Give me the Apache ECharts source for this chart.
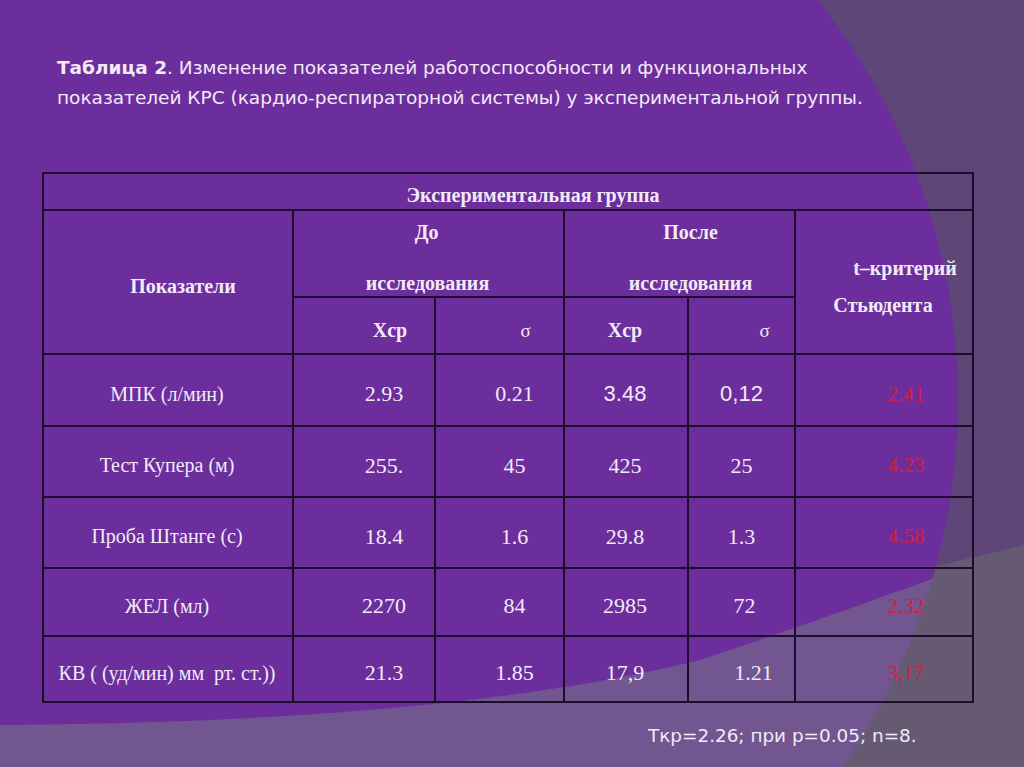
<!DOCTYPE html>
<html>
<head>
<meta charset="utf-8">
<script src="https://cdn.jsdelivr.net/npm/echarts@6/dist/echarts.min.js"></script>
<style>
html,body{margin:0;padding:0;background:#5f4678;}
#chart{width:1024px;height:767px;}
</style>
</head>
<body>
<div id="chart"></div>
<script>
// ---------- DATA ----------
const titleBold = 'Таблица 2';
const titleRest = '. Изменение показателей работоспособности и функциональных';
const titleLine2 = 'показателей КРС (кардио-респираторной системы) у экспериментальной группы.';
const groupHeader = 'Экспериментальная группа';
const indicatorHeader = 'Показатели';
const beforeHeader = ['До', 'исследования'];
const afterHeader = ['После', 'исследования'];
const tHeader = ['t–критерий', 'Стьюдента'];
const subHeaders = ['Хср', 'σ', 'Хср', 'σ'];
const indicators = ['МПК (л/мин)', 'Тест Купера (м)', 'Проба Штанге (с)', 'ЖЕЛ (мл)', 'КВ ( (уд/мин) мм  рт. ст.))'];
const meanBefore = ['2.93', '255.', '18.4', '2270', '21.3'];
const sigmaBefore = ['0.21', '45', '1.6', '84', '1.85'];
const meanAfter = ['3.48', '425', '29.8', '2985', '17,9'];
const sigmaAfter = ['0,12', '25', '1.3', '72', '1.21'];
const tStudent = ['2.41', '4.23', '4.58', '2.32', '3,17'];
const footnote = 'Ткр=2.26; при р=0.05; n=8.';

// ---------- LAYOUT ----------
const colEdges = [0, 250, 392, 521, 645, 752, 930];
const rowEdges = [0, 37, 124, 181, 253, 324, 395, 463, 529];
const LIGHT = '#f3eaf7';
const RED = '#d81e3c';
const fHead = {fontFamily: 'Liberation Serif', fontWeight: 'bold', fontSize: 20, fill: LIGHT};
const fSigma = {fontFamily: 'Liberation Serif', fontWeight: 'normal', fontSize: 19, fill: LIGHT};
const fLabel = {fontFamily: 'Liberation Serif', fontWeight: 'normal', fontSize: 20, fill: LIGHT};
const fNum = {fontFamily: 'Liberation Serif', fontWeight: 'normal', fontSize: 22, fill: LIGHT};
const fSans = {fontFamily: 'Liberation Sans', fontWeight: 'normal', fontSize: 22, fill: LIGHT};
const fRed = {fontFamily: 'Liberation Serif', fontWeight: 'normal', fontSize: 21, fill: RED};
const numColDx = [20, 15, -1, 0, 22];
const extraDx = [[0,0,0,0,0],[0,0,0,0,0],[0,0,0,0,0],[0,0,0,3,0],[0,0,0,12,0]];
const rowDy = 3.5;

const cells = [];
function addCell(c0, c1, r0, r1, lines) { cells.push({c0, c1, r0, r1, lines}); }
addCell(0, 6, 0, 1, [{t: groupHeader, s: fHead, dx: 25, dy: 3.5}]);
addCell(0, 1, 1, 3, [{t: indicatorHeader, s: fHead, dx: 15, dy: 4}]);
addCell(1, 3, 1, 2, [{t: beforeHeader[0], s: fHead, dx: -2, dy: -21.5}, {t: beforeHeader[1], s: fHead, dx: -1, dy: 29.5}]);
addCell(3, 5, 1, 2, [{t: afterHeader[0], s: fHead, dx: 11, dy: -21.5}, {t: afterHeader[1], s: fHead, dx: 11, dy: 29.5}]);
addCell(5, 6, 1, 3, [{t: tHeader[0], s: fHead, dx: 21, dy: -14}, {t: tHeader[1], s: fHead, dx: -1, dy: 23}]);
const subDx = [26, 26, -1, 23];
subHeaders.forEach((h, i) => addCell(1 + i, 2 + i, 2, 3, [{t: h, s: (h === 'σ' ? fSigma : fHead), dx: subDx[i], dy: 4.5}]));
indicators.forEach((name, r) => {
  const row = 3 + r;
  addCell(0, 1, row, row + 1, [{t: name, s: fLabel, dx: -1, dy: rowDy}]);
  const vals = [meanBefore[r], sigmaBefore[r], meanAfter[r], sigmaAfter[r], tStudent[r]];
  vals.forEach((v, k) => {
    let st = fNum;
    if (k === 4) st = fRed;
    else if (r === 0 && (k === 2 || k === 3)) st = fSans;
    addCell(1 + k, 2 + k, row, row + 1, [{t: v, s: st, dx: numColDx[k] + extraDx[r][k], dy: rowDy}]);
  });
});

const cellData = cells.map(c => [colEdges[c.c0], rowEdges[c.r0], colEdges[c.c1], rowEdges[c.r1]]);

// ---------- BACKGROUND DECORATION ----------
function quad(p0, c, p1, n, out) {
  for (let i = 0; i <= n; i++) {
    const t = i / n, u = 1 - t;
    out.push([u*u*p0[0] + 2*u*t*c[0] + t*t*p1[0], u*u*p0[1] + 2*u*t*c[1] + t*t*p1[1]]);
  }
}
const lowerPts = [];
quad([0, 725], [450, 722], [700, 660], 30, lowerPts);
quad([700, 660], [850, 610], [1024, 545], 20, lowerPts);
lowerPts.push([1024, 767], [0, 767]);

const arcPts = [];
for (let a = 15; a <= 36; a += 1) {
  const rad = a * Math.PI / 180;
  arcPts.push([317 + 641 * Math.cos(rad), 400 + 641 * Math.sin(rad)]);
}
arcPts.push([1024, 767], [1024, 545]);

const chart = echarts.init(document.getElementById('chart'), null, {renderer: 'svg'});
chart.setOption({
  backgroundColor: '#5f4678',
  animation: false,
  grid: {left: 43, top: 173, width: 930, height: 529},
  xAxis: {type: 'value', min: 0, max: 930, show: false},
  yAxis: {type: 'value', min: 0, max: 529, inverse: true, show: false},
  graphic: [
    {type: 'circle', silent: true, z: -10, shape: {cx: 317, cy: 400, r: 641}, style: {fill: '#6c2e9c'}},
    {type: 'polygon', silent: true, z: -9, shape: {points: lowerPts}, style: {fill: '#71568f'}},
    {type: 'polygon', silent: true, z: -8, shape: {points: arcPts}, style: {fill: '#655a71'}},
    {type: 'text', silent: true, x: 57, y: 67, style: {
      text: '{b|' + titleBold + '}{r|' + titleRest + '}',
      verticalAlign: 'middle',
      rich: {
        b: {fontFamily: 'DejaVu Sans', fontWeight: 'bold', fontSize: 18.5, fill: LIGHT},
        r: {fontFamily: 'DejaVu Sans', fontWeight: 'normal', fontSize: 18.5, fill: LIGHT}
      }
    }},
    {type: 'text', silent: true, x: 57, y: 97, style: {text: titleLine2, fontFamily: 'DejaVu Sans', fontSize: 18.5, fill: LIGHT, verticalAlign: 'middle'}},
    {type: 'text', silent: true, x: 648, y: 735, style: {text: footnote, fontFamily: 'DejaVu Sans', fontSize: 18.4, fill: LIGHT, verticalAlign: 'middle'}}
  ],
  series: [{
    type: 'custom',
    z: 10,
    silent: true,
    data: cellData,
    renderItem: function (params, api) {
      const cell = cells[params.dataIndex];
      const p0 = api.coord([api.value(0), api.value(1)]);
      const p1 = api.coord([api.value(2), api.value(3)]);
      const cx = (p0[0] + p1[0]) / 2, cy = (p0[1] + p1[1]) / 2;
      const children = [{
        type: 'rect',
        shape: {x: p0[0], y: p0[1], width: p1[0] - p0[0], height: p1[1] - p0[1]},
        style: {fill: 'none', stroke: '#1d0c2c', lineWidth: 2}
      }];
      cell.lines.forEach(l => {
        children.push({
          type: 'text', x: cx + l.dx, y: cy + l.dy,
          style: Object.assign({text: l.t, align: 'center', verticalAlign: 'middle'}, l.s)
        });
      });
      return {type: 'group', children: children};
    }
  }]
});
</script>
</body>
</html>
